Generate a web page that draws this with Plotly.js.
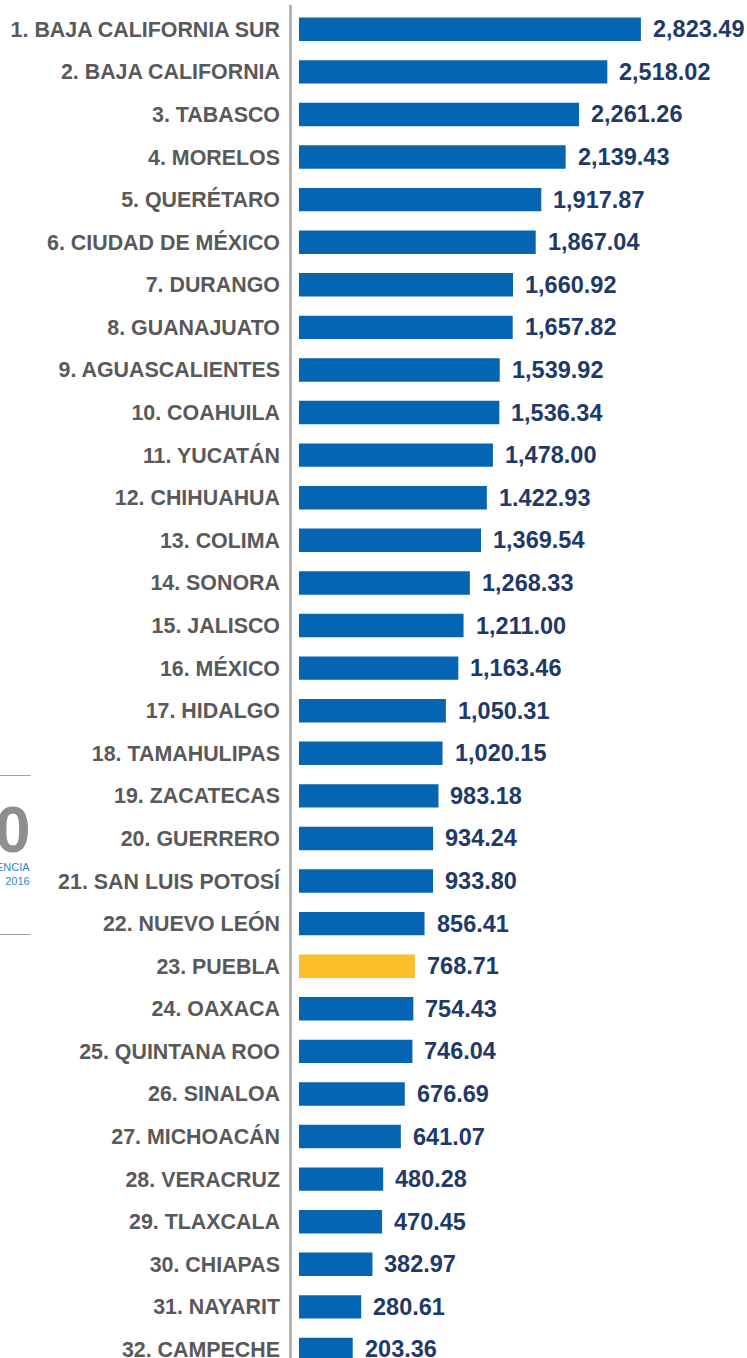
<!DOCTYPE html>
<html>
<head>
<meta charset="utf-8">
<script src="https://cdn.plot.ly/plotly-3.0.1.min.js"></script>
<style>
  html, body { margin: 0; padding: 0; background: #ffffff; }
  #chart { width: 747px; height: 1358px; }
</style>
</head>
<body>
<div id="chart"></div>
<script>
// ---- Data ----
const states = [
  "1. BAJA CALIFORNIA SUR", "2. BAJA CALIFORNIA", "3. TABASCO", "4. MORELOS",
  "5. QUERÉTARO", "6. CIUDAD DE MÉXICO", "7. DURANGO", "8. GUANAJUATO",
  "9. AGUASCALIENTES", "10. COAHUILA", "11. YUCATÁN", "12. CHIHUAHUA",
  "13. COLIMA", "14. SONORA", "15. JALISCO", "16. MÉXICO",
  "17. HIDALGO", "18. TAMAHULIPAS", "19. ZACATECAS", "20. GUERRERO",
  "21. SAN LUIS POTOSÍ", "22. NUEVO LEÓN", "23. PUEBLA", "24. OAXACA",
  "25. QUINTANA ROO", "26. SINALOA", "27. MICHOACÁN", "28. VERACRUZ",
  "29. TLAXCALA", "30. CHIAPAS", "31. NAYARIT", "32. CAMPECHE"
];
const values = [
  2823.49, 2518.02, 2261.26, 2139.43, 1917.87, 1867.04, 1660.92, 1657.82,
  1539.92, 1536.34, 1478.00, 1422.93, 1369.54, 1268.33, 1211.00, 1163.46,
  1050.31, 1020.15, 983.18, 934.24, 933.80, 856.41, 768.71, 754.43,
  746.04, 676.69, 641.07, 480.28, 470.45, 382.97, 280.61, 203.36
];
const valueLabels = [
  "2,823.49", "2,518.02", "2,261.26", "2,139.43", "1,917.87", "1,867.04", "1,660.92", "1,657.82",
  "1,539.92", "1,536.34", "1,478.00", "1.422.93", "1,369.54", "1,268.33", "1,211.00", "1,163.46",
  "1,050.31", "1,020.15", "983.18", "934.24", "933.80", "856.41", "768.71", "754.43",
  "746.04", "676.69", "641.07", "480.28", "470.45", "382.97", "280.61", "203.36"
];
const highlightState = "23. PUEBLA";
const sideNumber = "0";
const sideLabelLines = ["ENCIA", "2016"];

// ---- Styling / layout constants ----
const W = 747, H = 1358;
const ML = 299, MT = 8;
const PW = W - ML, PH = H - MT;
const AXIS_START = -285;   // axis begins left of zero
const AXIS_END = 3788;
const BLUE = "#0565B3", YELLOW = "#FBBF2C";
const LABEL_GREY = "#595959", VALUE_NAVY = "#1F3A68";
const FONT = "Liberation Sans, Arial, sans-serif";

const px2paperX = px => (px - ML) / PW;
const px2paperY = py => (H - py) / PH;

const colors = states.map(s => s === highlightState ? YELLOW : BLUE);

const trace = {
  type: "bar",
  orientation: "h",
  y: states,
  x: values.map(v => v - AXIS_START),
  base: AXIS_START,
  width: 0.55,
  marker: { color: colors, line: { width: 0 } },
  hoverinfo: "skip"
};

const annotations = states.map((s, i) => ({
  xref: "x", yref: "y",
  x: values[i], y: s,
  text: valueLabels[i],
  showarrow: false,
  xanchor: "left", yanchor: "middle",
  xshift: 10,
  font: { family: FONT, size: 23.5, color: VALUE_NAVY, weight: "bold" }
}));

annotations.push(
  { xref: "paper", yref: "paper", x: px2paperX(33), y: px2paperY(830),
    text: sideNumber, showarrow: false, xanchor: "right", yanchor: "middle",
    font: { family: FONT, size: 64, color: "#8E8E8E", weight: "bold" } },
  { xref: "paper", yref: "paper", x: px2paperX(32), y: px2paperY(874),
    text: sideLabelLines.join("<br>"), showarrow: false, align: "right",
    xanchor: "right", yanchor: "middle",
    font: { family: FONT, size: 11, color: "#2F86C6" } }
);

const shapes = [
  { type: "line", xref: "paper", yref: "paper",
    x0: px2paperX(290.5), x1: px2paperX(290.5), y0: 0, y1: px2paperY(5),
    line: { color: "#A6A6A6", width: 2.5 } },
  { type: "line", xref: "paper", yref: "paper",
    x0: px2paperX(0), x1: px2paperX(30.5), y0: px2paperY(775.5), y1: px2paperY(775.5),
    line: { color: "#A0A0A0", width: 1 } },
  { type: "line", xref: "paper", yref: "paper",
    x0: px2paperX(0), x1: px2paperX(30.5), y0: px2paperY(934.5), y1: px2paperY(934.5),
    line: { color: "#A0A0A0", width: 1 } }
];

const layout = {
  width: W, height: H,
  margin: { l: ML, r: 0, t: MT, b: 0, pad: 0 },
  paper_bgcolor: "#ffffff", plot_bgcolor: "#ffffff",
  showlegend: false,
  xaxis: {
    range: [AXIS_START, AXIS_END],
    visible: false, fixedrange: true
  },
  yaxis: {
    type: "category",
    categoryorder: "array", categoryarray: states,
    range: [31.2, -0.5],
    showgrid: false, zeroline: false, showline: false,
    ticks: "", ticklabelstandoff: 18,
    tickfont: { family: FONT, size: 21.4, color: LABEL_GREY, weight: "bold" },
    fixedrange: true
  },
  annotations: annotations,
  shapes: shapes
};

Plotly.newPlot("chart", [trace], layout, { displayModeBar: false, staticPlot: true });
</script>
</body>
</html>
